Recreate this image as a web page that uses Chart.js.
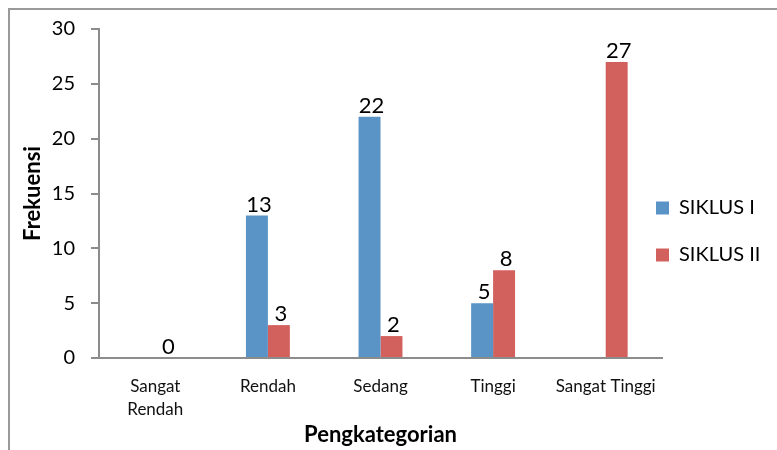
<!DOCTYPE html>
<html>
<head>
<meta charset="utf-8">
<script src="https://cdn.jsdelivr.net/npm/chart.js@4.4.0/dist/chart.umd.min.js"></script>
<style>
  html, body { margin: 0; padding: 0; background: #fff; }
  #wrap { width: 777px; height: 450px; position: relative; }
</style>
</head>
<body>
<div id="wrap"><canvas id="myChart" width="777" height="450"></canvas></div>
<script>
// kategori dan nilai
const categories = [["Sangat", "Rendah"], "Rendah", "Sedang", "Tinggi", "Sangat Tinggi"];
const siklus1 = [0, 13, 22, 5, 0];
const siklus2 = [0, 3, 2, 8, 27];
// label angka yang tampil di atas batang
const showLabel1 = [false, true, true, true, false];
const showLabel2 = [true, true, true, true, true];
const yTicks = [0, 5, 10, 15, 20, 25, 30];

const fontFamily = "Lato, 'Open Sans', sans-serif";

// bingkai abu-abu di kiri dan atas
const framePlugin = {
    id: "frame",
    beforeDraw(chart) {
        const c = chart.ctx;
        c.save();
        c.strokeStyle = "#9a9a9a";
        c.lineWidth = 2;
        c.beginPath();
        c.moveTo(9, chart.height);
        c.lineTo(9, 9);
        c.lineTo(chart.width, 9);
        c.stroke();
        c.restore();
    }
};

// angka di atas batang
const valueLabels = {
    id: "valueLabels",
    afterDatasetsDraw(chart) {
        const c = chart.ctx;
        const shows = [showLabel1, showLabel2];
        c.save();
        c.font = "22px " + fontFamily;
        c.fillStyle = "#000";
        c.textAlign = "center";
        c.textBaseline = "bottom";
        chart.data.datasets.forEach((ds, di) => {
            const meta = chart.getDatasetMeta(di);
            meta.data.forEach((bar, i) => {
                if (!shows[di][i]) return;
                c.fillText(String(ds.data[i]), bar.x + 2, bar.y);
            });
        });
        c.restore();
    }
};

// geser legenda sedikit ke kiri/atas seperti aslinya
const legendShift = {
    id: "legendShift",
    afterLayout(chart) {
        const lg = chart.legend;
        lg.left -= 33;
        lg.top -= 8; lg.bottom -= 8;
    }
};

const ctx = document.getElementById("myChart").getContext("2d");
const config = {
    type: "bar",
    data: {
        labels: categories,
        datasets: [
            {
                label: "SIKLUS I",
                data: siklus1,
                backgroundColor: "#5a93c6",
                borderWidth: 0,
                categoryPercentage: 0.39,
                barPercentage: 1.0
            },
            {
                label: "SIKLUS II",
                data: siklus2,
                backgroundColor: "#d2615d",
                borderWidth: 0,
                categoryPercentage: 0.39,
                barPercentage: 1.0
            }
        ]
    },
    options: {
        responsive: false,
        animation: false,
        layout: { padding: { top: 29, left: 0, right: 0, bottom: 0 } },
        plugins: {
            tooltip: { enabled: false },
            legend: {
                position: "right",
                maxWidth: 115,
                labels: {
                    boxWidth: 13,
                    boxHeight: 13,
                    padding: 27,
                    color: "#000",
                    font: { family: fontFamily, size: 20 }
                }
            }
        },
        scales: {
            x: {
                grid: { display: false },
                border: { display: true, color: "#8c8c8c", width: 2 },
                ticks: {
                    color: "#111",
                    padding: 9,
                    maxRotation: 0,
                    autoSkip: false,
                    font: { family: fontFamily, size: 17, lineHeight: 1.35 }
                },
                title: {
                    display: true,
                    text: "Pengkategorian",
                    color: "#000",
                    padding: { top: 0, bottom: 2 },
                    font: { family: fontFamily, size: 22, weight: "bold" }
                },
                afterFit(scale) { scale.height = 92; }
            },
            y: {
                min: 0,
                max: 30,
                afterBuildTicks(scale) {
                    scale.ticks = yTicks.map(v => ({ value: v }));
                },
                grid: {
                    display: true,
                    drawOnChartArea: false,
                    drawTicks: true,
                    tickLength: 8,
                    color: "#8c8c8c",
                    lineWidth: 2
                },
                border: { display: true, color: "#8c8c8c", width: 2 },
                ticks: {
                    color: "#000",
                    padding: 16,
                    font: { family: fontFamily, size: 20 }
                },
                title: {
                    display: true,
                    text: "Frekuensi",
                    color: "#000",
                    padding: { top: 20, bottom: 0 },
                    font: { family: fontFamily, size: 22, weight: "bold" }
                },
                afterFit(scale) { scale.width = 99; }
            }
        }
    },
    plugins: [framePlugin, valueLabels, legendShift]
};
let myChart = new Chart(ctx, config);
</script>
</body>
</html>
